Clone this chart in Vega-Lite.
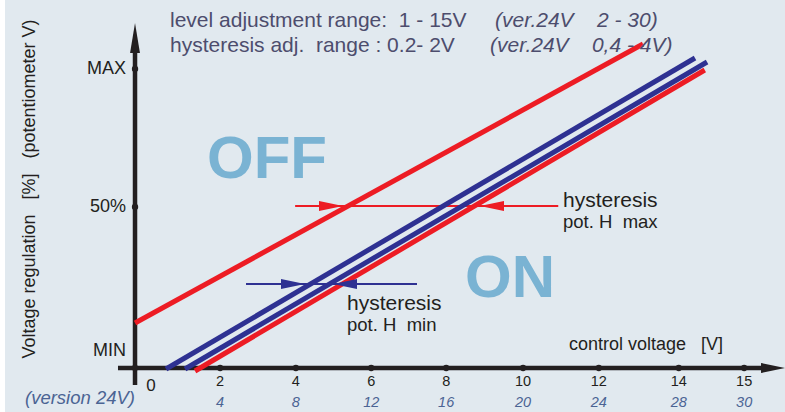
{
  "$schema": "https://vega.github.io/schema/vega-lite/v6.json",
  "width": 785,
  "height": 412,
  "autosize": {"type": "fit", "contains": "padding"},
  "padding": {"left": 5, "top": 0, "right": 0, "bottom": 0},
  "background": "white",
  "config": {
    "view": {"stroke": null, "fill": "#e1e9ef"},
    "text": {"font": "Liberation Sans"}
  },
  "datasets": {
    "axes": [
      {"x": -0.175, "y": -5.69, "x2": -0.175, "y2": 105.35, "k": "axis"},
      {"x": -0.62, "y": 0, "x2": 16.29, "y2": 0, "k": "axis"}
    ],
    "lines": [
      {"x": -0.175, "y": 15.05, "x2": 13.106, "y2": 108.36, "k": "red"},
      {"x": 0.635, "y": -0.33, "x2": 14.465, "y2": 103.68, "k": "blue"},
      {"x": 1.132, "y": -0.33, "x2": 14.78, "y2": 102.34, "k": "blue"},
      {"x": 1.394, "y": -1.0, "x2": 14.72, "y2": 99.67, "k": "red"}
    ],
    "arrowlines": [
      {"x": 4.011, "y": 54.18, "x2": 10.89, "y2": 54.18, "k": "red"},
      {"x": 2.727, "y": 28.09, "x2": 7.197, "y2": 28.09, "k": "blue"}
    ],
    "headsRight": [
      {"x": 4.949, "y": 54.18, "k": "red"},
      {"x": 3.955, "y": 28.09, "k": "blue"},
      {"x": 16.505, "y": 0, "k": "axis"}
    ],
    "headsLeft": [
      {"x": 9.158, "y": 54.18, "k": "red"},
      {"x": 5.315, "y": 28.09, "k": "blue"}
    ],
    "headUp": [{"x": -0.175, "y": 110.37, "k": "axis"}],
    "dots": [
      {"x": -0.175, "y": 100},
      {"x": -0.175, "y": 53.85},
      {"x": -0.175, "y": 0},
      {"x": 2.05, "y": 0},
      {"x": 4.03, "y": 0},
      {"x": 6.0, "y": 0},
      {"x": 7.96, "y": 0},
      {"x": 9.97, "y": 0},
      {"x": 11.95, "y": 0},
      {"x": 14.04, "y": 0},
      {"x": 15.75, "y": 0}
    ],
    "header": [
      {"x": 0.74, "y": 114.05, "t": "level adjustment range:\u00a0 1 - 15V"},
      {"x": 0.74, "y": 105.69, "t": "hysteresis adj.\u00a0 range : 0.2- 2V"}
    ],
    "headerItalic": [
      {"x": 9.237, "y": 114.05, "t": "(ver.24V\u00a0\u00a0\u00a0 2 - 30)"},
      {"x": 9.106, "y": 105.69, "t": "(ver.24V\u00a0\u00a0\u00a0 0,4 - 4V)"}
    ],
    "ytitle": [{"x": -2.79, "y": 59.87, "t": "Voltage regulation\u00a0\u00a0 [%]\u00a0\u00a0 (potentiometer V)"}],
    "ylabels": [
      {"x": -0.41, "y": 100, "t": "MAX"},
      {"x": -0.41, "y": 53.85, "t": "50%"},
      {"x": -0.41, "y": 5.69, "t": "MIN"}
    ],
    "xtitle": [{"x": 11.171, "y": 7.69, "t": "control voltage\u00a0\u00a0 [V]"}],
    "ticks": [
      {"x": 2.05, "y": -4.68, "t": "2"},
      {"x": 4.03, "y": -4.68, "t": "4"},
      {"x": 6.0, "y": -4.68, "t": "6"},
      {"x": 7.96, "y": -4.68, "t": "8"},
      {"x": 9.97, "y": -4.68, "t": "10"},
      {"x": 11.95, "y": -4.68, "t": "12"},
      {"x": 14.04, "y": -4.68, "t": "14"},
      {"x": 15.75, "y": -4.68, "t": "15"}
    ],
    "zero": [{"x": 0.243, "y": -6.02, "t": "0"}],
    "ticks24": [
      {"x": 2.05, "y": -11.71, "t": "4"},
      {"x": 4.03, "y": -11.71, "t": "8"},
      {"x": 6.0, "y": -11.71, "t": "12"},
      {"x": 7.96, "y": -11.71, "t": "16"},
      {"x": 9.97, "y": -11.71, "t": "20"},
      {"x": 11.95, "y": -11.71, "t": "24"},
      {"x": 14.04, "y": -11.71, "t": "28"},
      {"x": 15.75, "y": -11.71, "t": "30"}
    ],
    "version": [{"x": -3.051, "y": -10.03, "t": "(version 24V)"}],
    "hyst": [
      {"x": 11.015, "y": 53.85, "t": "hysteresis"},
      {"x": 5.367, "y": 19.4, "t": "hysteresis"}
    ],
    "pot": [
      {"x": 11.015, "y": 46.82, "t": "pot. H\u00a0 max"},
      {"x": 5.367, "y": 12.37, "t": "pot. H\u00a0 min"}
    ],
    "states": [
      {"x": 3.276, "y": 63.55, "t": "OFF"},
      {"x": 9.629, "y": 23.75, "t": "ON"}
    ]
  },
  "encoding": {
    "x": {"field": "x", "type": "quantitative", "axis": null, "scale": {"domain": [-3.574, 16.818], "nice": false, "zero": false}},
    "y": {"field": "y", "type": "quantitative", "axis": null, "scale": {"domain": [-14.72, 123.08], "nice": false, "zero": false}}
  },
  "layer": [
    {
      "data": {"name": "arrowlines"},
      "mark": {"type": "rule", "strokeWidth": 2.2},
      "encoding": {
        "x2": {"field": "x2"}, "y2": {"field": "y2"},
        "color": {"field": "k", "type": "nominal", "legend": null, "scale": {"domain": ["axis", "red", "blue"], "range": ["#231f20", "#ed1c24", "#2e3192"]}}
      }
    },
    {
      "data": {"name": "axes"},
      "mark": {"type": "rule", "strokeWidth": 4.5},
      "encoding": {
        "x2": {"field": "x2"}, "y2": {"field": "y2"},
        "color": {"field": "k", "type": "nominal", "legend": null}
      }
    },
    {
      "data": {"name": "lines"},
      "mark": {"type": "rule", "strokeWidth": 5},
      "encoding": {
        "x2": {"field": "x2"}, "y2": {"field": "y2"},
        "color": {"field": "k", "type": "nominal", "legend": null}
      }
    },
    {
      "data": {"name": "headsRight"},
      "mark": {"type": "point", "filled": true, "opacity": 1, "size": 576, "shape": "M-1,-0.42L1,0L-1,0.42Z"},
      "encoding": {"color": {"field": "k", "type": "nominal", "legend": null}}
    },
    {
      "data": {"name": "headsLeft"},
      "mark": {"type": "point", "filled": true, "opacity": 1, "size": 576, "shape": "M1,-0.42L-1,0L1,0.42Z"},
      "encoding": {"color": {"field": "k", "type": "nominal", "legend": null}}
    },
    {
      "data": {"name": "headUp"},
      "mark": {"type": "point", "filled": true, "opacity": 1, "size": 900, "shape": "M-0.33,1L0,-1L0.33,1Z"},
      "encoding": {"color": {"field": "k", "type": "nominal", "legend": null}}
    },
    {
      "data": {"name": "dots"},
      "mark": {"type": "circle", "size": 40, "opacity": 1, "color": "#231f20"}
    },
    {
      "data": {"name": "header"},
      "mark": {"type": "text", "fontSize": 21, "color": "#4d4d6d", "align": "left", "baseline": "alphabetic"},
      "encoding": {"text": {"field": "t"}}
    },
    {
      "data": {"name": "headerItalic"},
      "mark": {"type": "text", "fontSize": 21, "fontStyle": "italic", "color": "#4d4d6d", "align": "left", "baseline": "alphabetic"},
      "encoding": {"text": {"field": "t"}}
    },
    {
      "data": {"name": "ytitle"},
      "mark": {"type": "text", "fontSize": 18, "angle": 270, "color": "#231f20", "align": "center", "baseline": "alphabetic"},
      "encoding": {"text": {"field": "t"}}
    },
    {
      "data": {"name": "ylabels"},
      "mark": {"type": "text", "fontSize": 18, "color": "#231f20", "align": "right", "baseline": "middle"},
      "encoding": {"text": {"field": "t"}}
    },
    {
      "data": {"name": "xtitle"},
      "mark": {"type": "text", "fontSize": 18, "color": "#231f20", "align": "left", "baseline": "middle"},
      "encoding": {"text": {"field": "t"}}
    },
    {
      "data": {"name": "ticks"},
      "mark": {"type": "text", "fontSize": 14.5, "color": "#231f20", "align": "center", "baseline": "middle"},
      "encoding": {"text": {"field": "t"}}
    },
    {
      "data": {"name": "zero"},
      "mark": {"type": "text", "fontSize": 17, "color": "#231f20", "align": "center", "baseline": "middle"},
      "encoding": {"text": {"field": "t"}}
    },
    {
      "data": {"name": "ticks24"},
      "mark": {"type": "text", "fontSize": 14.5, "fontStyle": "italic", "color": "#4b6494", "align": "center", "baseline": "middle"},
      "encoding": {"text": {"field": "t"}}
    },
    {
      "data": {"name": "version"},
      "mark": {"type": "text", "fontSize": 18.5, "fontStyle": "italic", "color": "#4b6494", "align": "left", "baseline": "middle"},
      "encoding": {"text": {"field": "t"}}
    },
    {
      "data": {"name": "hyst"},
      "mark": {"type": "text", "fontSize": 21, "color": "#231f20", "align": "left", "baseline": "alphabetic"},
      "encoding": {"text": {"field": "t"}}
    },
    {
      "data": {"name": "pot"},
      "mark": {"type": "text", "fontSize": 18.5, "color": "#231f20", "align": "left", "baseline": "alphabetic"},
      "encoding": {"text": {"field": "t"}}
    },
    {
      "data": {"name": "states"},
      "mark": {"type": "text", "fontSize": 60, "fontWeight": "bold", "color": "#7ab3d3", "align": "center", "baseline": "alphabetic"},
      "encoding": {"text": {"field": "t"}}
    }
  ]
}
